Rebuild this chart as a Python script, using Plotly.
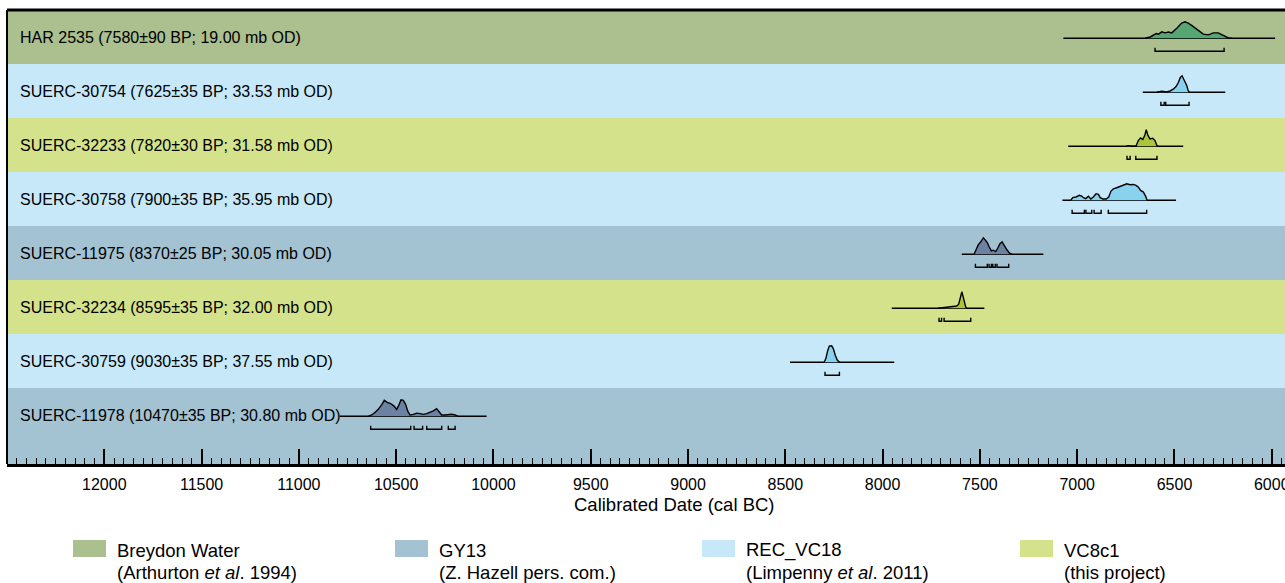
import plotly.graph_objects as go

# ---- data -------------------------------------------------------------
labels = [
    "HAR 2535 (7580±90 BP; 19.00 mb OD)",
    "SUERC-30754 (7625±35 BP; 33.53 mb OD)",
    "SUERC-32233 (7820±30 BP; 31.58 mb OD)",
    "SUERC-30758 (7900±35 BP; 35.95 mb OD)",
    "SUERC-11975 (8370±25 BP; 30.05 mb OD)",
    "SUERC-32234 (8595±35 BP; 32.00 mb OD)",
    "SUERC-30759 (9030±35 BP; 37.55 mb OD)",
    "SUERC-11978 (10470±35 BP; 30.80 mb OD)",
]
sites = ["Breydon Water", "REC_VC18", "VC8c1", "REC_VC18",
         "GY13", "VC8c1", "REC_VC18", "GY13"]

# extent of each date's plotted range (cal BC)
span_from = [7071, 6663, 7046, 7076, 7593, 7953, 8476, 10790]
span_to = [5983, 6239, 6455, 6492, 7174, 7477, 7940, 10035]

# calibrated probability distributions (cal BC, relative probability)
dist_years = [
    [6651, 6625, 6594, 6582, 6565, 6548, 6531, 6514, 6488, 6463, 6446, 6429,
     6403, 6377, 6352, 6326, 6300, 6275, 6249, 6223, 6206],
    [6591, 6565, 6540, 6523, 6506, 6492, 6480, 6470, 6461, 6453, 6444, 6437,
     6430, 6424],
    [6749, 6737, 6720, 6698, 6686, 6674, 6663, 6653, 6645, 6636, 6626, 6612,
     6600, 6591, 6585],
    [7033, 7023, 7006, 6989, 6977, 6968, 6956, 6942, 6930, 6917, 6903, 6891,
     6882, 6868, 6851, 6838, 6826, 6814, 6797, 6780, 6763, 6745, 6728, 6711,
     6698, 6686, 6674, 6660, 6648, 6641],
    [7530, 7520, 7508, 7496, 7482, 7472, 7462, 7452, 7441, 7431, 7419, 7408,
     7397, 7386, 7376, 7362, 7349, 7336],
    [7714, 7688, 7662, 7637, 7619, 7609, 7600, 7593, 7587, 7580, 7573, 7568],
    [8300, 8291, 8282, 8274, 8262, 8253, 8243, 8233, 8222],
    [10643, 10626, 10609, 10592, 10574, 10561, 10546, 10528, 10511, 10497,
     10485, 10475, 10463, 10451, 10441, 10429, 10412, 10394, 10377, 10360,
     10343, 10326, 10309, 10292, 10278, 10266, 10249, 10232, 10214, 10197,
     10181],
]
dist_prob = [
    [0, 0.08, 0.29, 0.25, 0.39, 0.33, 0.38, 0.33, 0.61, 0.92, 1.0, 0.92,
     0.71, 0.46, 0.25, 0.21, 0.33, 0.33, 0.17, 0.02, 0],
    [0, 0.06, 0.02, 0.08, 0.19, 0.35, 0.59, 0.9, 1.0, 0.81, 0.66, 0.41,
     0.12, 0],
    [0, 0.04, 0, 0, 0.35, 0.51, 0.41, 0.65, 1.0, 0.65, 0.45, 0.49,
     0.35, 0.06, 0],
    [0, 0.16, 0.2, 0.3, 0.26, 0.16, 0.1, 0.24, 0.08, 0.2, 0.4, 0.36,
     0.16, 0.08, 0.08, 0.2, 0.56, 0.7, 0.76, 0.84, 0.9, 1.0, 0.94, 0.96,
     0.9, 0.8, 0.6, 0.5, 0.24, 0],
    [0, 0.29, 0.58, 0.75, 1.0, 0.86, 0.71, 0.44, 0.21, 0.25, 0.17, 0.38,
     0.64, 0.75, 0.54, 0.29, 0.08, 0],
    [0, 0.04, 0.06, 0.1, 0.14, 0.25, 0.66, 1.0, 0.75, 0.35, 0.08, 0],
    [0, 0.26, 0.72, 0.98, 1.0, 0.82, 0.41, 0.14, 0],
    [0, 0.08, 0.23, 0.42, 0.71, 0.97, 0.85, 0.77, 0.62, 0.42, 0.71, 1.0,
     0.97, 0.71, 0.33, 0.08, 0.12, 0.19, 0.16, 0.12, 0.16, 0.23, 0.33, 0.46,
     0.23, 0.08, 0.08, 0.12, 0.12, 0.08, 0],
]

# 95.4% probability ranges (cal BC)
ranges = [
    [(6600, 6245)],
    [(6570, 6553), (6545, 6425)],
    [(6744, 6728), (6699, 6590)],
    [(7026, 6963), (6955, 6925), (6913, 6877), (6840, 6643)],
    [(7523, 7462), (7453, 7441), (7434, 7421), (7412, 7352)],
    [(7710, 7697), (7684, 7547)],
    [(8296, 8222)],
    [(10631, 10425), (10408, 10364), (10343, 10266), (10232, 10197)],
]

tick_years = list(range(12000, 5999, -500))

legend_sites = ["Breydon Water", "GY13", "REC_VC18", "VC8c1"]
legend_notes = ["(Arthurton <i>et al</i>. 1994)", "(Z. Hazell pers. com.)",
                "(Limpenny <i>et al</i>. 2011)", "(this project)"]

# ---- styling ----------------------------------------------------------
band_colour = {"Breydon Water": "#abbf8f", "GY13": "#a3c3d3",
               "REC_VC18": "#c6e8f8", "VC8c1": "#d3e28b"}
fill_colour = {"Breydon Water": "#55a673", "GY13": "#6c82a3",
               "REC_VC18": "#88d2f0", "VC8c1": "#a9c63c"}

W, H = 1285, 583
L, R, T, B = 7, 0, 10, 119
PW, PH = W - L - R, H - T - B
FONT = "Liberation Sans, Arial, Helvetica, sans-serif"

ROW_PX = 54.0
Y_TOP = -0.5
Y_BOTTOM = Y_TOP + PH / ROW_PX
PEAK = 16.5 / ROW_PX          # height of each distribution's maximum
BASE_OFF = 1.3 / ROW_PX       # baseline sits just below the label line
BR_LINE = 13.0 / ROW_PX       # range bracket below the baseline
BR_TICK = 9.5 / ROW_PX


def px_x(px):
    return (px - L) / PW


def px_y(py):
    return (T + PH - py) / PH


fig = go.Figure()
shapes = []
annotations = []

n = len(labels)
for i in range(n):
    y0 = i - 0.5
    y1 = i + 0.5 if i < n - 1 else Y_BOTTOM
    shapes.append(dict(type="rect", xref="paper", yref="y", x0=0, x1=1,
                       y0=y0, y1=y1, fillcolor=band_colour[sites[i]],
                       line=dict(width=0), layer="below"))
    annotations.append(dict(text=labels[i], xref="paper", yref="y",
                            x=px_x(18), y=i, xanchor="left", yanchor="middle",
                            showarrow=False,
                            font=dict(family=FONT, size=16, color="black")))

for i in range(n):
    base = i + BASE_OFF
    # horizontal baseline for the plotted span
    fig.add_trace(go.Scatter(x=[span_from[i], span_to[i]], y=[base, base],
                             mode="lines", line=dict(color="black", width=1.6),
                             hoverinfo="skip", showlegend=False))
    # probability distribution
    ys = [base - p * PEAK for p in dist_prob[i]]
    fig.add_trace(go.Scatter(x=dist_years[i], y=ys, mode="lines",
                             fill="toself", fillcolor=fill_colour[sites[i]],
                             line=dict(color="black", width=1.4),
                             hoverinfo="skip", showlegend=False))
    # range brackets
    bx, by = [], []
    for a, b in ranges[i]:
        bx += [a, a, b, b, None]
        by += [base + BR_TICK, base + BR_LINE, base + BR_LINE,
               base + BR_TICK, None]
    fig.add_trace(go.Scatter(x=bx, y=by, mode="lines",
                             line=dict(color="black", width=1.4),
                             hoverinfo="skip", showlegend=False))

# frame lines: top and left
shapes.append(dict(type="line", xref="paper", yref="paper", x0=0, x1=1,
                   y0=1, y1=1, line=dict(color="black", width=3)))
shapes.append(dict(type="line", xref="paper", yref="paper", x0=0, x1=0,
                   y0=0, y1=1, line=dict(color="black", width=2)))

# axis title
annotations.append(dict(text="Calibrated Date (cal BC)", xref="paper",
                        yref="paper", x=px_x(674), y=px_y(505),
                        xanchor="center", yanchor="middle", showarrow=False,
                        font=dict(family=FONT, size=18.5, color="black")))

# legend built from swatches and two-line captions
legend_sw_x = [73, 395, 702, 1020]
for k, name in enumerate(legend_sites):
    sx = legend_sw_x[k]
    shapes.append(dict(type="rect", xref="paper", yref="paper",
                       x0=px_x(sx), x1=px_x(sx + 33), y0=px_y(540),
                       y1=px_y(557), fillcolor=band_colour[name],
                       line=dict(width=0)))
    annotations.append(dict(text=name, xref="paper", yref="paper",
                            x=px_x(sx + 42), y=px_y(550), xanchor="left",
                            yanchor="middle", showarrow=False,
                            font=dict(family=FONT, size=18.5, color="black")))
    annotations.append(dict(text=legend_notes[k], xref="paper", yref="paper",
                            x=px_x(sx + 42), y=px_y(572), xanchor="left",
                            yanchor="middle", showarrow=False,
                            font=dict(family=FONT, size=18.5, color="black")))

fig.update_layout(
    width=W, height=H,
    margin=dict(l=L, r=R, t=T, b=B, pad=0, autoexpand=False),
    paper_bgcolor="white", plot_bgcolor="white",
    shapes=shapes, annotations=annotations,
    showlegend=False,
    xaxis=dict(range=[12500, 5932], showgrid=False, zeroline=False,
               automargin=False,
               showline=True, linecolor="black", linewidth=2.5,
               tickmode="array", tickvals=tick_years,
               ticktext=[str(v) for v in tick_years],
               ticks="inside", ticklen=15, tickwidth=2, tickcolor="black",
               tickfont=dict(family=FONT, size=16, color="black"),
               ticklabelstandoff=4, ticklabeloverflow="allow",
               minor=dict(dtick=50, tick0=0, ticks="inside", ticklen=6,
                          tickwidth=1.2, tickcolor="black"),
               fixedrange=True),
    yaxis=dict(range=[Y_BOTTOM, Y_TOP], visible=False, showgrid=False,
               zeroline=False, fixedrange=True, automargin=False),
)

fig.write_html("out.html")
